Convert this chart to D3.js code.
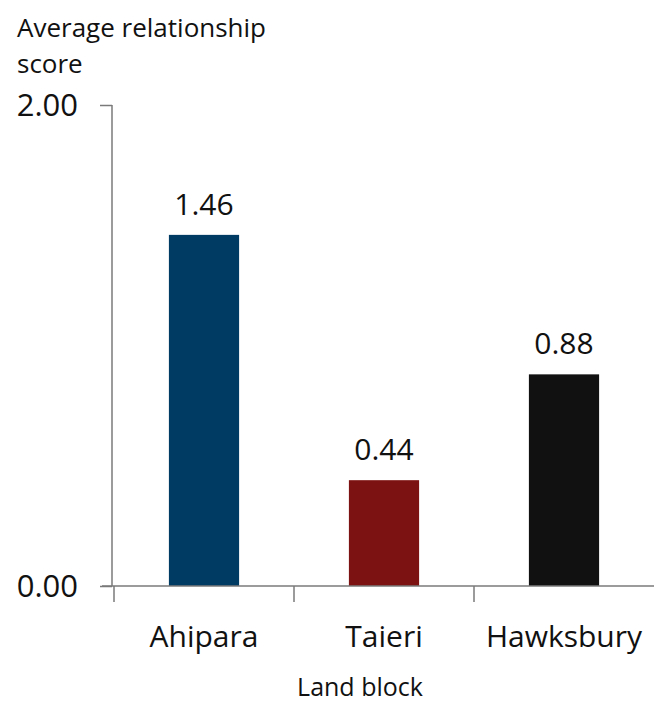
<!DOCTYPE html>
<html>
<head>
<meta charset="utf-8">
<script src="https://cdn.jsdelivr.net/npm/d3@7/dist/d3.min.js"></script>
<style>
  html, body { margin: 0; padding: 0; background: #fff; }
  svg { display: block; }
  text { font-family: "Open Sans", "Noto Sans", sans-serif; fill: #111; }
</style>
</head>
<body>
<svg id="chart" width="654" height="705"></svg>
<script>
// Average relationship score by land block
const categories = ["Ahipara", "Taieri", "Hawksbury"];
const scores = [1.46, 0.44, 0.88];
const barColors = ["#003b63", "#7d1212", "#111111"];
const yTicks = [0, 2];

const svg = d3.select("#chart");
const axisColor = "#7a7a7a";

const x = d3.scaleBand()
  .domain(categories)
  .range([114, 654])
  .paddingInner(0.61)
  .paddingOuter(0.305);

const y = d3.scaleLinear().domain([0, 2]).range([586, 105]);

// bars
svg.selectAll("rect.bar")
  .data(categories)
  .join("rect")
  .attr("class", "bar")
  .attr("x", d => x(d))
  .attr("width", x.bandwidth())
  .attr("y", (d, i) => y(scores[i]))
  .attr("height", (d, i) => y(0) - y(scores[i]))
  .attr("fill", (d, i) => barColors[i]);

// value labels
svg.selectAll("text.value")
  .data(categories)
  .join("text")
  .attr("class", "value")
  .attr("x", d => x(d) + x.bandwidth() / 2)
  .attr("y", (d, i) => y(scores[i]) - 20)
  .attr("text-anchor", "middle")
  .attr("font-size", 30)
  .text((d, i) => scores[i].toFixed(2));

// y axis
const yAxis = d3.axisLeft(y)
  .tickValues(yTicks)
  .tickSize(12)
  .tickPadding(6)
  .tickFormat(d3.format(".2f"));
const gy = svg.append("g").attr("transform", `translate(${x.range()[0] - 2},0)`).call(yAxis);
gy.select(".domain").remove();
gy.append("line")
  .attr("x1", 0).attr("x2", 0)
  .attr("y1", y(2)).attr("y2", y(0))
  .attr("stroke", axisColor).attr("stroke-width", 1.5);
gy.selectAll(".tick line").attr("stroke", axisColor).attr("stroke-width", 1.5);
gy.selectAll(".tick text")
  .attr("font-size", 31)
  .attr("fill", "#111")
  .attr("dy", "0.35em")
  .attr("x", -34);

// x axis baseline
svg.append("line")
  .attr("x1", x.range()[0] - 12).attr("x2", 654)
  .attr("y1", y(0)).attr("y2", y(0))
  .attr("stroke", axisColor).attr("stroke-width", 1.5);

// category boundary ticks
const step = x.step();
const bounds = categories.map(d => x(d) + x.bandwidth() / 2 - step / 2);
svg.selectAll("line.xtick")
  .data(bounds)
  .join("line")
  .attr("class", "xtick")
  .attr("x1", d => d).attr("x2", d => d)
  .attr("y1", y(0)).attr("y2", y(0) + 16)
  .attr("stroke", axisColor).attr("stroke-width", 1.5);

// category labels
svg.selectAll("text.cat")
  .data(categories)
  .join("text")
  .attr("class", "cat")
  .attr("x", d => x(d) + x.bandwidth() / 2)
  .attr("y", 647)
  .attr("text-anchor", "middle")
  .attr("font-size", 30)
  .text(d => d);

// axis titles
svg.append("text")
  .attr("x", 17).attr("y", 37)
  .attr("font-size", 26)
  .text("Average relationship");
svg.append("text")
  .attr("x", 17).attr("y", 73)
  .attr("font-size", 26)
  .text("score");

svg.append("text")
  .attr("x", 360).attr("y", 696)
  .attr("text-anchor", "middle")
  .attr("font-size", 25)
  .text("Land block");
</script>
</body>
</html>
